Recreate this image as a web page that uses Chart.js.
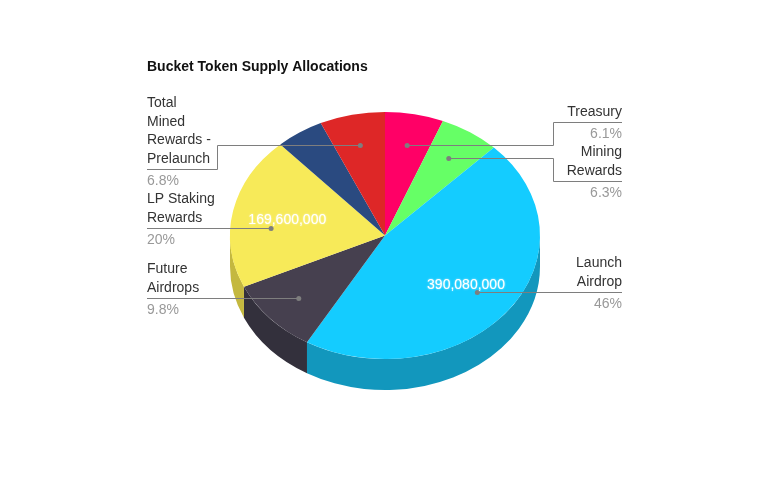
<!DOCTYPE html>
<html>
<head>
<meta charset="utf-8">
<title>Bucket Token Supply Allocations</title>
<script src="https://cdn.jsdelivr.net/npm/chart.js@4"></script>
<style>
    html, body { margin: 0; background: #fff; }
    canvas { display: block; }
</style>
</head>
<body>
<canvas id="chart" width="768" height="500"></canvas>
<script>
// 0. Chart data, clockwise from the top of the pie
const chartTitle = "Bucket Token Supply Allocations";
const sliceNames = ["Treasury", "Mining Rewards", "Launch Airdrop", "Future Airdrops", "LP Staking Rewards", "Other", "Total Mined Rewards - Prelaunch"];
const sliceTokens = [51700000, 53400000, 390080000, 83100000, 169600000, 42400000, 57700000];
const percentLabels = ["6.1%", "6.3%", "46%", "9.8%", "20%", "", "6.8%"];
const sliceColors = ["#ff0066", "#66ff66", "#14ccff", "#46404f", "#f7ea59", "#2a4a80", "#de2727"];
const sideColors = ["#c4004e", "#4ec44e", "#1297bd", "#33303c", "#c4b83f", "#1f3860", "#a81d1d"];

// 1. Label lines: wrapped name, column side, y of the line under the name, elbow x
const nameLines = [["Treasury"], ["Mining", "Rewards"], ["Launch", "Airdrop"], ["Future", "Airdrops"], ["LP Staking", "Rewards"], [], ["Total", "Mined", "Rewards -", "Prelaunch"]];
const labelSides = ["right", "right", "right", "left", "left", null, "left"];
const labelLineY = [122, 181, 292, 298, 228, null, 169];
const elbowX = [553, 553, null, null, null, null, 217];

const leftX = 147;
const rightX = 622;
const tilt = 0.797;
const depth = 31;
const lineColor = "#7e7e7e";
const font = '"Liberation Sans", Arial, sans-serif';

// The flat pie is squashed around its centre and gets a side wall below it
const pie3d = {
    id: "pie3d",
    beforeDatasetsDraw(chart) {
        const ctx = chart.ctx;
        const arcs = chart.getDatasetMeta(0).data;
        arcs.forEach((arc, index) => {
            const from = Math.max(arc.startAngle, 0);
            const to = Math.min(arc.endAngle, Math.PI);
            if (to <= from) return;
            const rx = arc.outerRadius;
            const ry = rx * tilt;
            ctx.beginPath();
            ctx.ellipse(arc.x, arc.y, rx, ry, 0, from, to);
            ctx.ellipse(arc.x, arc.y + depth, rx, ry, 0, to, from, true);
            ctx.closePath();
            ctx.fillStyle = sideColors[index];
            ctx.fill();
        });
        const { x, y } = arcs[0];
        ctx.save();
        ctx.translate(x, y);
        ctx.scale(1, tilt);
        ctx.translate(-x, -y);
    },
    afterDatasetsDraw(chart) {
        const ctx = chart.ctx;
        ctx.restore();
        const arcs = chart.getDatasetMeta(0).data;

        ctx.textBaseline = "middle";
        ctx.font = `bold 14px ${font}`;
        ctx.fillStyle = "#111";
        ctx.textAlign = "left";
        ctx.fillText(chartTitle, leftX, 67);

        arcs.forEach((arc, index) => {
            const side = labelSides[index];
            const mid = (arc.startAngle + arc.endAngle) / 2;
            const rx = arc.outerRadius;
            const ry = rx * tilt;

            if (side) {
                const dotX = arc.x + Math.cos(mid) * rx * 0.75;
                const textX = side === "left" ? leftX : rightX;
                const lineY = labelLineY[index];
                const elbow = elbowX[index];
                // Lines without an elbow run straight from the label
                const dotY = elbow === null ? lineY : Math.round(arc.y + Math.sin(mid) * ry * 0.75);

                ctx.strokeStyle = lineColor;
                ctx.lineWidth = 1;
                ctx.beginPath();
                ctx.moveTo(textX, lineY + 0.5);
                if (elbow !== null) {
                    ctx.lineTo(elbow + 0.5, lineY + 0.5);
                    ctx.lineTo(elbow + 0.5, dotY + 0.5);
                }
                ctx.lineTo(dotX, dotY + 0.5);
                ctx.stroke();

                ctx.fillStyle = lineColor;
                ctx.beginPath();
                ctx.arc(dotX, dotY + 0.5, 2.5, 0, Math.PI * 2);
                ctx.fill();

                ctx.font = `14px ${font}`;
                ctx.textAlign = side;
                ctx.fillStyle = "#333";
                const lines = nameLines[index];
                lines.forEach((line, i) => {
                    ctx.fillText(line, textX, lineY - 10 - (lines.length - 1 - i) * 18.67);
                });
                ctx.fillStyle = "#999";
                ctx.fillText(percentLabels[index], textX, lineY + 12);
            }

            // Only the big slices carry their token count
            if (sliceTokens[index] >= 100000000) {
                ctx.save();
                ctx.font = `14px ${font}`;
                ctx.textAlign = "center";
                ctx.fillStyle = "#fff";
                ctx.shadowColor = "rgba(255, 255, 255, 0.8)";
                ctx.shadowBlur = 2;
                ctx.fillText(sliceTokens[index].toLocaleString("en-US"),
                    arc.x + Math.cos(mid) * rx * 0.65 + 1,
                    arc.y + Math.sin(mid) * ry * 0.65 + 1);
                ctx.restore();
            }
        });
    }
};

const config = {
    type: "pie",
    data: {
        labels: sliceNames,
        datasets: [{
            data: sliceTokens,
            backgroundColor: sliceColors,
            borderWidth: 0
        }]
    },
    options: {
        responsive: false,
        animation: false,
        layout: {
            padding: { left: 230, right: 228, top: 80.5, bottom: 109.5 }
        },
        plugins: {
            legend: { display: false },
            tooltip: { enabled: false }
        }
    },
    plugins: [pie3d]
};

new Chart(document.getElementById("chart").getContext("2d"), config);
</script>
</body>
</html>
